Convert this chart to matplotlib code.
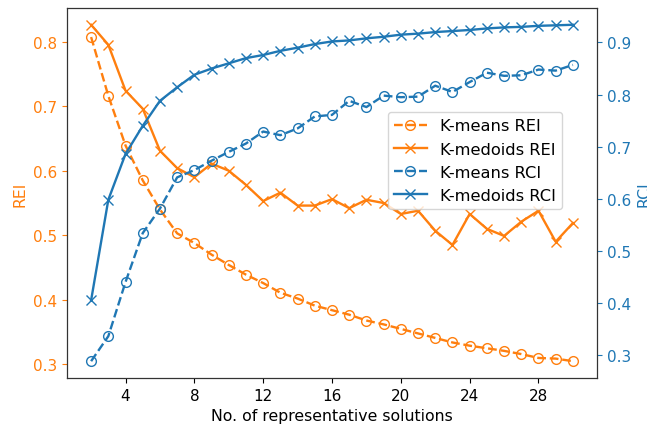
import numpy as np
import matplotlib
matplotlib.use('Agg')
import matplotlib.pyplot as plt

# Number of representative solutions
k = np.arange(2, 31)

# REI values (left axis)
kmeans_rei = [0.807, 0.716, 0.639, 0.585, 0.540, 0.503, 0.488, 0.470, 0.454, 0.439,
              0.426, 0.411, 0.402, 0.391, 0.384, 0.377, 0.368, 0.362, 0.355, 0.348,
              0.341, 0.334, 0.329, 0.325, 0.321, 0.316, 0.310, 0.309, 0.305]
kmedoids_rei = [0.826, 0.795, 0.724, 0.696, 0.631, 0.604, 0.590, 0.611, 0.600, 0.578,
                0.553, 0.566, 0.546, 0.546, 0.556, 0.542, 0.555, 0.550, 0.533, 0.538,
                0.507, 0.485, 0.533, 0.510, 0.499, 0.521, 0.538, 0.490, 0.519]

# RCI values (right axis)
kmeans_rci = [0.288, 0.336, 0.440, 0.534, 0.581, 0.641, 0.655, 0.673, 0.690, 0.706,
              0.729, 0.722, 0.735, 0.758, 0.761, 0.788, 0.776, 0.798, 0.795, 0.796,
              0.817, 0.805, 0.824, 0.842, 0.836, 0.837, 0.848, 0.846, 0.857]
kmedoids_rci = [0.405, 0.598, 0.686, 0.740, 0.788, 0.814, 0.838, 0.850, 0.860, 0.870,
                0.876, 0.884, 0.890, 0.897, 0.902, 0.904, 0.908, 0.911, 0.915, 0.917,
                0.920, 0.922, 0.924, 0.927, 0.929, 0.930, 0.932, 0.933, 0.934]

orange = '#ff7f0e'
blue = '#1f77b4'

fig, ax1 = plt.subplots(figsize=(6.47, 4.27), dpi=100)
fig.subplots_adjust(left=0.1036, right=0.9227, top=0.979, bottom=0.1124)
ax2 = ax1.twinx()

l1, = ax1.plot(k, kmeans_rei, '--o', color=orange, fillstyle='none', ms=7, lw=1.7, label='K-means REI')
l2, = ax1.plot(k, kmedoids_rei, '-x', color=orange, ms=7, lw=1.7, label='K-medoids REI')
l3, = ax2.plot(k, kmeans_rci, '--o', color=blue, fillstyle='none', ms=7, lw=1.7, label='K-means RCI')
l4, = ax2.plot(k, kmedoids_rci, '-x', color=blue, ms=7, lw=1.7, label='K-medoids RCI')

ax1.set_xticks([4, 8, 12, 16, 20, 24, 28])
ax1.set_xlabel('No. of representative solutions', fontsize=11.3)
ax1.set_ylabel('REI', color=orange, fontsize=11.3)
ax2.set_ylabel('RCI', color=blue, fontsize=11.3)
ax1.tick_params(axis='y', colors=orange, labelsize=11)
ax1.tick_params(axis='x', labelsize=11)
ax2.tick_params(axis='y', colors=blue, labelsize=11)
for sp in ax2.spines.values():
    sp.set_color('#333333')

ax2.legend(handles=[l1, l2, l3, l4], loc='upper right',
           bbox_to_anchor=(0.934, 0.719), borderaxespad=0, fontsize=11.7)

fig.savefig('out.png', dpi=100)
